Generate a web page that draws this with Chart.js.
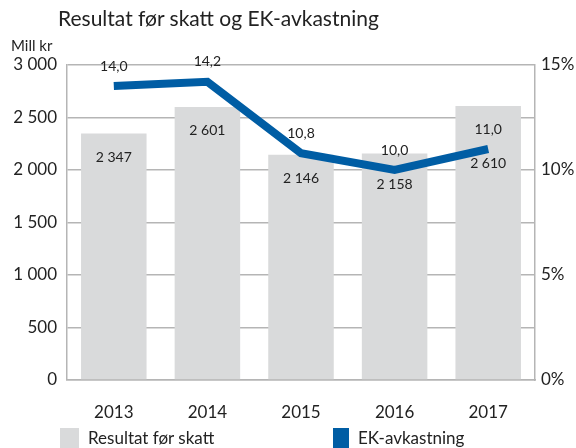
<!DOCTYPE html>
<html>
<head>
<meta charset="utf-8">
<script src="https://cdn.jsdelivr.net/npm/chart.js@4"></script>
<style>
  body { margin: 0; background: #fff; font-family: Lato, sans-serif; color: #222; }
  #wrap { position: relative; width: 576px; height: 448px; overflow: hidden; }
  canvas { position: absolute; left: 0; top: 0; }
  .title { position: absolute; left: 58px; top: 5px; font-size: 21px; }
  .unit { position: absolute; left: 11px; top: 36px; font-size: 15px; }
  .leg { position: absolute; top: 428px; font-size: 17px; line-height: 20px; white-space: nowrap; }
  .leg span { display: inline-block; width: 19px; height: 20px; vertical-align: top; margin-right: 9px; }
</style>
</head>
<body>
<div id="wrap">
  <canvas id="chart" width="576" height="448"></canvas>
  <div class="title">Resultat før skatt og EK-avkastning</div>
  <div class="unit">Mill kr</div>
  <div class="leg" style="left:60px"><span style="background:#d9dadb"></span>Resultat før skatt</div>
  <div class="leg" style="left:333px"><span style="background:#005da4;width:16px"></span>EK-avkastning</div>
</div>
<script>
document.addEventListener('DOMContentLoaded', function () {

  const years = ['2013', '2014', '2015', '2016', '2017'];
  const resultat = [2347, 2601, 2146, 2158, 2610];
  const ekAvkastning = [14.0, 14.2, 10.8, 10.0, 11.0];

  const fmtThousands = v => String(v).replace(/\B(?=(\d{3})+(?!\d))/g, ' ');
  const fmtPct = v => v.toFixed(1).replace('.', ',');

  // value labels for bars and line
  const labelPlugin = {
    id: 'valueLabels',
    afterDatasetsDraw(chart) {
      const ctx = chart.ctx;
      const pts = chart.getDatasetMeta(0).data;
      const bars = chart.getDatasetMeta(1).data;
      ctx.save();
      ctx.font = '14px Lato';
      ctx.fillStyle = '#222';
      ctx.textAlign = 'center';
      ctx.textBaseline = 'middle';
      bars.forEach((bar, i) => {
        const y = Math.max(bar.y + 24, pts[i].y + 14);
        ctx.fillText(fmtThousands(resultat[i]), bar.x, y);
      });
      pts.forEach((p, i) => {
        ctx.fillText(fmtPct(ekAvkastning[i]), p.x, p.y - 20);
      });
      ctx.restore();
    }
  };

  const chartConfig = {
    data: {
      labels: years,
      datasets: [{
        type: 'line',
        label: 'EK-avkastning',
        data: ekAvkastning,
        yAxisID: 'y2',
        borderColor: '#005da4',
        backgroundColor: '#005da4',
        borderWidth: 8,
        pointRadius: 0,
        tension: 0,
        order: 0
      }, {
        type: 'bar',
        label: 'Resultat før skatt',
        data: resultat,
        yAxisID: 'y',
        backgroundColor: '#d9dadb',
        categoryPercentage: 0.7,
        barPercentage: 1,
        order: 1
      }]
    },
    options: {
      responsive: false,
      animation: false,
      layout: { padding: { top: 65, left: 0, right: 0, bottom: 0 } },
      plugins: {
        legend: { display: false },
        tooltip: { enabled: false }
      },
      scales: {
        x: {
          grid: { display: false },
          border: { display: true, color: '#b5b5b5', width: 1.5 },
          ticks: { color: '#222', font: { family: 'Lato', size: 17 }, padding: 14 },
          afterFit(scale) { scale.height = 68; }
        },
        y: {
          position: 'left',
          min: 0,
          max: 3000,
          grid: { color: '#b5b5b5', lineWidth: 1.5, drawTicks: false },
          border: { display: true, color: '#b5b5b5', width: 1.5 },
          ticks: {
            stepSize: 500,
            padding: 10,
            color: '#222',
            font: { family: 'Lato', size: 17 },
            callback: v => fmtThousands(v)
          },
          afterFit(scale) { scale.width = 67; }
        },
        y2: {
          position: 'right',
          min: 0,
          max: 15,
          grid: { drawOnChartArea: false, drawTicks: false },
          border: { display: true, color: '#b5b5b5', width: 1.5 },
          ticks: {
            stepSize: 5,
            padding: 6,
            color: '#222',
            font: { family: 'Lato', size: 17 },
            callback: v => v + '%'
          },
          afterFit(scale) { scale.width = 41; }
        }
      }
    },
    plugins: [labelPlugin]
  };

  new Chart(document.getElementById('chart'), chartConfig);
});
</script>
</body>
</html>
